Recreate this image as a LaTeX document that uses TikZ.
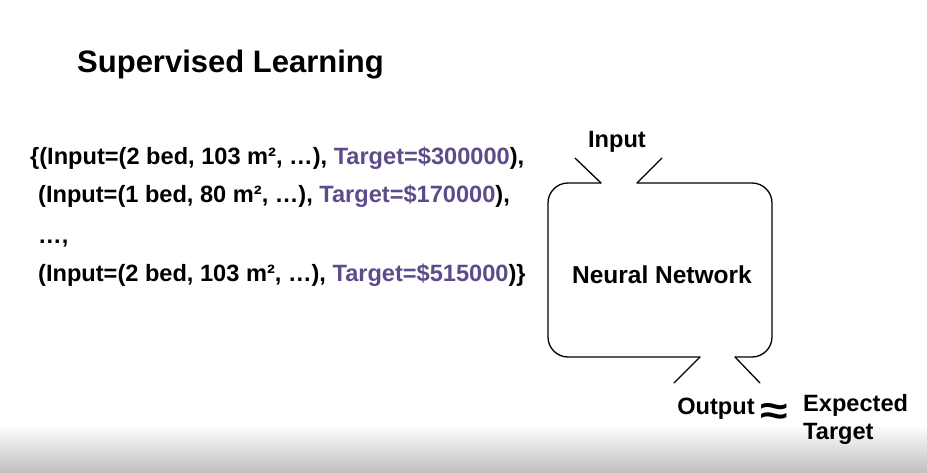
\documentclass[tikz,border=0pt]{standalone}
\usepackage{fontspec}
\setmainfont{Liberation Sans}
\usetikzlibrary{calc}
\definecolor{tgt}{HTML}{5E4B8B}
\begin{document}
\begin{tikzpicture}[x=1pt,y=-1pt,
  txt/.style={font=\bfseries\fontsize{23.6}{28}\selectfont, inner sep=0pt, anchor=base west},
  net/.style={line width=1.3pt, line join=round, line cap=round}]
\useasboundingbox (0,0) rectangle (927,473);
\shade[top color=white, bottom color=black!25] (0,425) rectangle (927,473);
\node[font=\bfseries\fontsize{31}{36}\selectfont, inner sep=0pt, anchor=base west] (title) at (77,73) {Supervised Learning};
\node[txt] (l1) at (30,165) {\{(Input=(2 bed, 103 m², …), \textcolor{tgt}{Target=\$300000}),};
\node[txt] (l2) at (38,203) {(Input=(1 bed, 80 m², …), \textcolor{tgt}{Target=\$170000}),};
\node[txt] (l3) at (38,244) {…,};
\node[txt] (l4) at (38,282) {(Input=(2 bed, 103 m², …), \textcolor{tgt}{Target=\$515000})\}};
\draw[net, rounded corners=20pt] (601,183) -- (548,183) -- (548,357) -- (700,357);
\draw[net, rounded corners=20pt] (637,183) -- (772,183) -- (772,357) -- (735,357);
\draw[net] (575,158) -- (601,183);
\draw[net] (662,158) -- (637,183);
\draw[net] (700,357) -- (674,383);
\draw[net] (735,357) -- (760,383);
\node[txt, anchor=center, font=\bfseries\fontsize{24.5}{28}\selectfont] (nn) at (662,275) {Neural Network};
\node[txt, anchor=center] (in) at (617,142) {Input};
\node[txt, anchor=center] (out) at (716,409) {Output};
\node[font=\bfseries\fontsize{40}{40}\selectfont, inner sep=0pt, xscale=1.25] (approx) at (774,414) {≈};
\node[txt, anchor=north west, align=left, font=\bfseries\fontsize{23.6}{28}\selectfont] (exp) at (803,394) {Expected\\Target};
\end{tikzpicture}
\end{document}
